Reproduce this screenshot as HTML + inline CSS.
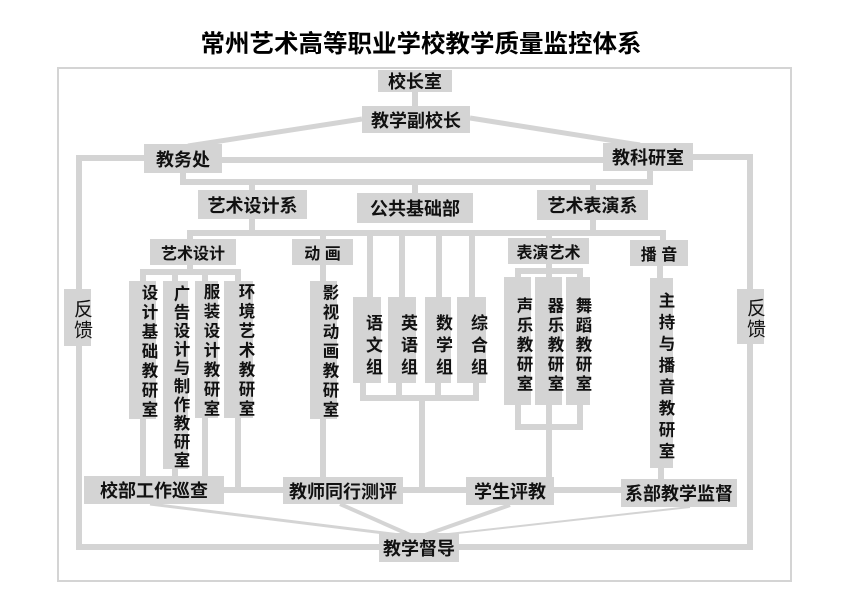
<!DOCTYPE html>
<html><head><meta charset="utf-8"><style>
body{margin:0;background:#fff;}
#c{position:relative;width:842px;height:595px;overflow:hidden;font-family:"Liberation Sans","Noto Sans CJK SC",sans-serif;}
.b{position:absolute;background:#d4d4d4;color:#111;font-size:18px;font-weight:600;display:flex;align-items:center;justify-content:center;white-space:nowrap;}
.v{position:absolute;background:#d4d4d4;color:#111;font-size:16.5px;font-weight:600;writing-mode:vertical-rl;text-orientation:upright;display:flex;align-items:flex-start;justify-content:center;letter-spacing:3px;padding-top:4px;box-sizing:border-box;line-height:1;white-space:nowrap;overflow:visible;}
svg{position:absolute;left:0;top:0;}
.t{position:absolute;left:0;width:842px;top:25px;text-align:center;font-size:24.5px;font-weight:700;color:#000;}
</style></head><body><div id="c">
<svg width="842" height="595">
<rect x="58" y="68" width="733" height="513" fill="none" stroke="#d4d4d4" stroke-width="2"/>
<g stroke="#d4d4d4" stroke-width="6" fill="none">
<line x1="415" y1="92" x2="415" y2="106"/>
<line x1="362" y1="119" x2="188" y2="146" stroke-width="5"/>
<line x1="470" y1="118" x2="640" y2="145" stroke-width="5"/>
<line x1="222" y1="160" x2="603" y2="160"/>
<polyline points="144,158 79,158 79,289"/>
<polyline points="79,346 79,547 750,547 750,344"/>
<polyline points="693,157 750,157 750,289"/>
<polyline points="183,173 183,182 650,182 650,171"/>
<line x1="252" y1="182" x2="252" y2="190"/>
<line x1="415" y1="182" x2="415" y2="193"/>
<line x1="593" y1="182" x2="593" y2="190"/>
<line x1="252" y1="219" x2="252" y2="233"/>
<line x1="593" y1="220" x2="593" y2="233"/>
<polyline points="190,239 190,233 663,233 663,240"/>
<line x1="323" y1="233" x2="323" y2="239"/>
<line x1="370" y1="233" x2="370" y2="297"/>
<line x1="402" y1="233" x2="402" y2="297"/>
<line x1="439" y1="233" x2="439" y2="297"/>
<line x1="472" y1="233" x2="472" y2="297"/>
<line x1="549" y1="233" x2="549" y2="238"/>
<line x1="190" y1="265" x2="190" y2="272"/>
<polyline points="143,281 143,272 238,272 238,281"/>
<line x1="175" y1="272" x2="175" y2="281"/>
<line x1="205" y1="272" x2="205" y2="281"/>
<line x1="323" y1="265" x2="323" y2="281"/>
<line x1="549" y1="264" x2="549" y2="277"/>
<polyline points="518,277 518,271 580,271 580,277"/>
<line x1="660" y1="266" x2="660" y2="278"/>
<line x1="143" y1="419" x2="143" y2="476"/>
<line x1="175" y1="469" x2="175" y2="476"/>
<line x1="205" y1="418" x2="205" y2="476"/>
<line x1="238" y1="418" x2="238" y2="490"/>
<line x1="323" y1="419" x2="323" y2="477"/>
<line x1="224" y1="490" x2="621" y2="490"/>
<polyline points="363,383 363,398 476,398 476,383"/>
<line x1="399" y1="383" x2="399" y2="398"/>
<line x1="438" y1="383" x2="438" y2="398"/>
<line x1="422" y1="398" x2="422" y2="490"/>
<polyline points="518,405 518,427 580,427 580,405"/>
<line x1="549" y1="405" x2="549" y2="477"/>
<line x1="661" y1="468" x2="661" y2="479"/>
<line x1="150" y1="504" x2="400" y2="535" stroke-width="3"/>
<line x1="340" y1="504" x2="410" y2="535" stroke-width="4"/>
<line x1="510" y1="505" x2="425" y2="535" stroke-width="4"/>
<line x1="690" y1="507" x2="440" y2="535" stroke-width="2"/>
</g></svg>
<div class="t">常州艺术高等职业学校教学质量监控体系</div>
<div class="b" style="left:378px;top:70px;width:74px;height:22px">校长室</div>
<div class="b" style="left:362px;top:106px;width:108px;height:27px">教学副校长</div>
<div class="b" style="left:144px;top:144px;width:78px;height:29px">教务处</div>
<div class="b" style="left:603px;top:143px;width:90px;height:28px">教科研室</div>
<div class="b" style="left:198px;top:190px;width:109px;height:29px">艺术设计系</div>
<div class="b" style="left:357px;top:193px;width:116px;height:30px">公共基础部</div>
<div class="b" style="left:537px;top:190px;width:111px;height:30px">艺术表演系</div>
<div class="b" style="left:150px;top:239px;width:86px;height:26px;font-size:16px">艺术设计</div>
<div class="b" style="left:292px;top:239px;width:61px;height:26px;font-size:16px">动&nbsp;画</div>
<div class="b" style="left:508px;top:238px;width:81px;height:26px;font-size:16px">表演艺术</div>
<div class="b" style="left:630px;top:240px;width:58px;height:26px;font-size:16px">播&nbsp;音</div>
<div class="v" style="left:64px;top:289px;width:27px;height:57px;font-size:19px;font-weight:400;padding-top:5px;letter-spacing:2px">反馈</div>
<div class="v" style="left:737px;top:289px;width:27px;height:55px;font-size:19px;font-weight:400;padding-top:5px;letter-spacing:2px">反馈</div>
<div class="v" style="left:129px;top:281px;width:27px;height:138px">设计基础教研室</div>
<div class="v" style="left:163px;top:281px;width:25px;height:188px;letter-spacing:2px">广告设计与制作教研室</div>
<div class="v" style="left:195px;top:281px;width:23px;height:137px">服装设计教研室</div>
<div class="v" style="left:224px;top:281px;width:29px;height:137px">环境艺术教研室</div>
<div class="v" style="left:310px;top:281px;width:27px;height:138px">影视动画教研室</div>
<div class="v" style="left:353px;top:297px;width:28px;height:86px;padding-top:13px;font-size:17px;letter-spacing:5px">语文组</div>
<div class="v" style="left:388px;top:297px;width:28px;height:86px;padding-top:13px;font-size:17px;letter-spacing:5px">英语组</div>
<div class="v" style="left:425px;top:297px;width:26px;height:86px;padding-top:13px;font-size:17px;letter-spacing:5px">数学组</div>
<div class="v" style="left:457px;top:297px;width:29px;height:86px;padding-top:13px;font-size:17px;letter-spacing:5px">综合组</div>
<div class="v" style="left:504px;top:277px;width:27px;height:128px;padding-top:10px">声乐教研室</div>
<div class="v" style="left:535px;top:277px;width:27px;height:128px;padding-top:10px">器乐教研室</div>
<div class="v" style="left:566px;top:277px;width:24px;height:128px;padding-top:10px">舞蹈教研室</div>
<div class="v" style="left:650px;top:278px;width:23px;height:190px;padding-top:10px;letter-spacing:5px">主持与播音教研室</div>
<div class="b" style="left:84px;top:476px;width:140px;height:28px">校部工作巡查</div>
<div class="b" style="left:283px;top:477px;width:120px;height:27px">教师同行测评</div>
<div class="b" style="left:466px;top:477px;width:88px;height:28px">学生评教</div>
<div class="b" style="left:621px;top:479px;width:116px;height:28px">系部教学监督</div>
<div class="b" style="left:379px;top:533px;width:80px;height:29px">教学督导</div>
</div></body></html>
